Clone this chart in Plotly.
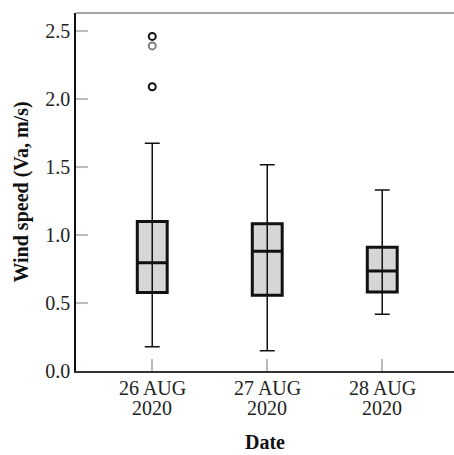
import plotly.graph_objects as go

categories = ["26 AUG 2020", "27 AUG 2020", "28 AUG 2020"]
label_line1 = ["26 AUG", "27 AUG", "28 AUG"]
label_line2 = ["2020", "2020", "2020"]
q1 = [0.578, 0.557, 0.581]
median = [0.796, 0.880, 0.735]
q3 = [1.100, 1.083, 0.910]
lower = [0.179, 0.149, 0.417]
upper = [1.674, 1.517, 1.331]
outlier_x = ["26 AUG 2020", "26 AUG 2020", "26 AUG 2020"]
outlier_y = [2.46, 2.39, 2.09]
outlier_colors = ["#111111", "#808080", "#111111"]
y_ticks = [0, 0.5, 1.0, 1.5, 2.0, 2.5]
y_ticktext = ["0.0", "0.5", "1.0", "1.5", "2.0", "2.5"]

SERIF = "Liberation Serif, Times New Roman, serif"
FS = 20

fig = go.Figure()

# box bodies (thick outline, stippled-grey fill)
fig.add_trace(go.Box(
    x=categories, q1=q1, median=median, q3=q3,
    lowerfence=q1, upperfence=q3,
    width=0.26, whiskerwidth=0,
    fillcolor="#d6d6d6",
    line=dict(color="#111111", width=3),
    boxpoints=False, showlegend=False, hoverinfo="skip",
))
# whiskers (thin line running through the box)
fig.add_trace(go.Box(
    x=categories, q1=median, median=median, q3=median,
    lowerfence=lower, upperfence=upper,
    width=0.26, whiskerwidth=0.5,
    fillcolor="rgba(0,0,0,0)",
    line=dict(color="#111111", width=1.5),
    boxpoints=False, showlegend=False, hoverinfo="skip",
))
fig.add_trace(go.Scatter(
    x=outlier_x, y=outlier_y, mode="markers",
    marker=dict(symbol="circle-open", size=7,
                color=outlier_colors, line=dict(width=2, color=outlier_colors)),
    showlegend=False, hoverinfo="skip",
))

annotations = []
for c, l1, l2 in zip(categories, label_line1, label_line2):
    annotations.append(dict(x=c, xref="x", y=0, yref="paper", text=l1, showarrow=False,
                            yanchor="middle", yshift=-17,
                            font=dict(family=SERIF, size=FS, color="#222222")))
    annotations.append(dict(x=c, xref="x", y=0, yref="paper", text=l2, showarrow=False,
                            yanchor="middle", yshift=-37,
                            font=dict(family=SERIF, size=FS, color="#222222")))

fig.update_layout(
    width=454, height=455,
    margin=dict(l=76, r=0, t=13, b=84),
    paper_bgcolor="white", plot_bgcolor="white",
    boxmode="overlay",
    font=dict(family=SERIF, size=FS, color="#222222"),
    xaxis=dict(
        type="category", categoryorder="array", categoryarray=categories,
        range=[-0.663, 2.624],
        showgrid=False, zeroline=False,
        showline=True, linecolor="#333333", linewidth=1.5,
        ticks="inside", ticklen=12, tickcolor="#bbbbbb", tickwidth=1.5,
        showticklabels=False,
        title=dict(text="<b>Date</b>", font=dict(family=SERIF, size=FS, color="#111111"), standoff=63),
    ),
    yaxis=dict(
        range=[0, 2.632],
        tickvals=y_ticks, ticktext=y_ticktext,
        showgrid=False, zeroline=False,
        showline=True, linecolor="#111111", linewidth=1.5,
        ticks="inside", ticklen=12, tickcolor="#bbbbbb", tickwidth=1.5,
        tickfont=dict(family=SERIF, size=FS, color="#222222"),
        title=dict(text="<b>Wind speed (Va, m/s)</b>", font=dict(family=SERIF, size=FS, color="#111111"), standoff=11),
    ),
    annotations=annotations,
    shapes=[dict(type="line", xref="paper", yref="paper", x0=0, x1=1, y0=1, y1=1,
                 line=dict(color="#888888", width=1.5))],
)

fig.write_html("out.html")
